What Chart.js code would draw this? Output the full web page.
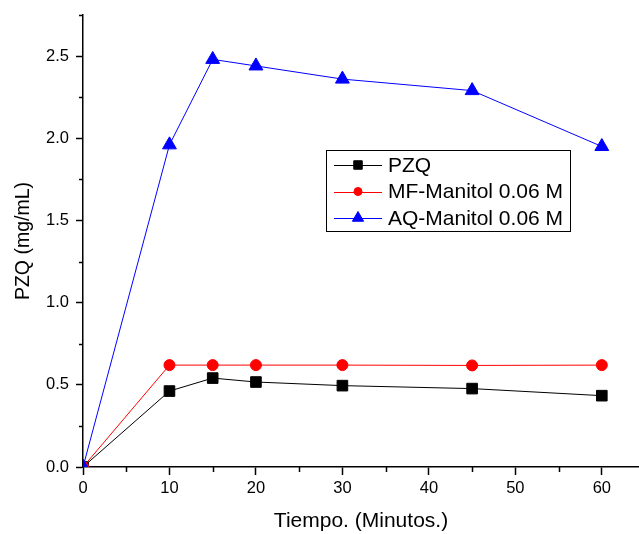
<!DOCTYPE html>
<html>
<head>
<meta charset="utf-8">
<script src="https://cdn.jsdelivr.net/npm/chart.js@4.4.1/dist/chart.umd.min.js"></script>
<style>
  html, body { margin: 0; padding: 0; background: #fff; }
  #wrap { width: 639px; height: 534px; }
</style>
</head>
<body>
<div id="wrap"><canvas id="c"></canvas></div>
<script>
// datos
const tiempos = [0, 10, 15, 20, 30, 45, 60];
const pzq = [0, 0.462, 0.541, 0.517, 0.495, 0.477, 0.434];
const mfManitol = [0, 0.62, 0.62, 0.62, 0.62, 0.618, 0.62];
const aqManitol = [0, 1.96, 2.48, 2.44, 2.36, 2.29, 1.95];
const nombres = ['PZQ', 'MF-Manitol 0.06 M', 'AQ-Manitol 0.06 M'];
const xTicks = [0, 5, 10, 15, 20, 25, 30, 35, 40, 45, 50, 55, 60];
const yTicks = [0, 0.25, 0.5, 0.75, 1, 1.25, 1.5, 1.75, 2, 2.25, 2.5, 2.75];

const fuente = "'Liberation Sans', Arial, sans-serif";

const toPoints = (ys) => tiempos.map((t, i) => ({ x: t, y: ys[i] }));
const esMayorY = (v) => Math.abs(v * 2 - Math.round(v * 2)) < 1e-6;

// marcas menores más cortas
const minorTicks = {
  id: 'minorTicks',
  afterDraw(chart) {
    const ctx = chart.ctx;
    const xs = chart.scales.x, ys = chart.scales.y;
    ctx.save();
    ctx.strokeStyle = '#000';
    ctx.lineWidth = 1.5;
    ctx.beginPath();
    xTicks.filter(v => v % 10 !== 0).forEach(v => {
      const px = Math.round(xs.getPixelForValue(v)) + 0.5;
      ctx.moveTo(px, ys.bottom); ctx.lineTo(px, ys.bottom + 5);
    });
    yTicks.filter(v => !esMayorY(v)).forEach(v => {
      const py = Math.round(ys.getPixelForValue(v)) + 0.5;
      ctx.moveTo(xs.left, py); ctx.lineTo(xs.left - 4, py);
    });
    ctx.stroke();
    ctx.restore();
  }
};

// leyenda con recuadro
const leyenda = {
  id: 'leyenda',
  afterDraw(chart) {
    const ctx = chart.ctx;
    const box = { x: 326, y: 150, w: 244, h: 81 };
    ctx.save();
    ctx.strokeStyle = '#000';
    ctx.lineWidth = 1;
    ctx.strokeRect(box.x + 0.5, box.y + 0.5, box.w, box.h);
    chart.data.datasets.forEach((ds, i) => {
      const y = 165 + i * 26.5;
      ctx.strokeStyle = ds.borderColor;
      ctx.lineWidth = 1;
      ctx.beginPath();
      ctx.moveTo(334, Math.round(y) + 0.5); ctx.lineTo(382, Math.round(y) + 0.5);
      ctx.stroke();
      ctx.fillStyle = ds.backgroundColor;
      ctx.strokeStyle = ds.borderColor;
      Chart.helpers.drawPoint(ctx, {
        pointStyle: ds.pointStyle, radius: ds.pointRadius - 1.5, rotation: 0, borderWidth: 1
      }, 358, y);
      ctx.fillStyle = '#000';
      ctx.font = '21px ' + fuente;
      ctx.textBaseline = 'middle';
      ctx.fillText(ds.label, 388, y + 1);
    });
    ctx.restore();
  }
};

new Chart(document.getElementById('c'), {
  type: 'line',
  data: {
    datasets: [
      { label: nombres[0], data: toPoints(pzq), borderColor: '#000000', backgroundColor: '#000000',
        pointBorderColor: '#000000', pointBackgroundColor: '#000000',
        pointStyle: 'rect', pointRadius: 7.5, borderWidth: 1, order: 3 },
      { label: nombres[1], data: toPoints(mfManitol), borderColor: '#ff0000', backgroundColor: '#ff0000',
        pointBorderColor: '#ff0000', pointBackgroundColor: '#ff0000',
        pointStyle: 'circle', pointRadius: 5.5, borderWidth: 1, order: 2 },
      { label: nombres[2], data: toPoints(aqManitol), borderColor: '#0000ff', backgroundColor: '#0000ff',
        pointBorderColor: '#0000ff', pointBackgroundColor: '#0000ff',
        pointStyle: 'triangle', pointRadius: 8, borderWidth: 1, order: 1 }
    ]
  },
  options: {
    responsive: true,
    maintainAspectRatio: false,
    animation: false,
    layout: { autoPadding: false, padding: { top: 15, right: 0, left: 0, bottom: 0 } },
    elements: { line: { tension: 0 }, point: { borderWidth: 1, hoverRadius: 8 } },
    plugins: { legend: { display: false }, tooltip: { enabled: false } },
    scales: {
      x: {
        type: 'linear',
        min: 0,
        max: 64.3,
        afterBuildTicks: (s) => { s.ticks = xTicks.map(v => ({ value: v })); },
        afterFit: (s) => { s.height = 67; s.paddingLeft = 0; s.paddingRight = 0; },
        border: { display: true, color: '#000', width: 1.5 },
        grid: { drawOnChartArea: false, drawTicks: true, tickLength: 8, tickWidth: 1.5,
                tickColor: (c) => (c.tick && c.tick.value % 10 === 0) ? '#000' : 'rgba(0,0,0,0)' },
        ticks: {
          padding: 4, color: '#000', font: { family: fuente, size: 16.5 }, maxRotation: 0, autoSkip: false,
          callback: (v) => v % 10 === 0 ? String(v) : ''
        },
        title: { display: true, text: 'Tiempo. (Minutos.)', color: '#000',
                 font: { family: fuente, size: 21 }, padding: { top: 0, bottom: 0 } }
      },
      y: {
        type: 'linear',
        min: 0,
        max: 2.75,
        afterBuildTicks: (s) => { s.ticks = yTicks.map(v => ({ value: v })); },
        afterFit: (s) => { s.width = 83; s.paddingTop = 0; s.paddingBottom = 0; },
        border: { display: true, color: '#000', width: 1.5 },
        grid: { drawOnChartArea: false, drawTicks: true, tickLength: 7, tickWidth: 1.5,
                tickColor: (c) => (c.tick && esMayorY(c.tick.value)) ? '#000' : 'rgba(0,0,0,0)' },
        ticks: {
          padding: 7, color: '#000', font: { family: fuente, size: 16.5 }, autoSkip: false,
          callback: (v) => esMayorY(v) ? v.toFixed(1) : ''
        },
        title: { display: true, text: 'PZQ (mg/mL)', color: '#000',
                 font: { family: fuente, size: 19.5 }, padding: { top: 12, bottom: 0 } }
      }
    }
  },
  plugins: [minorTicks, leyenda]
});
</script>
</body>
</html>
